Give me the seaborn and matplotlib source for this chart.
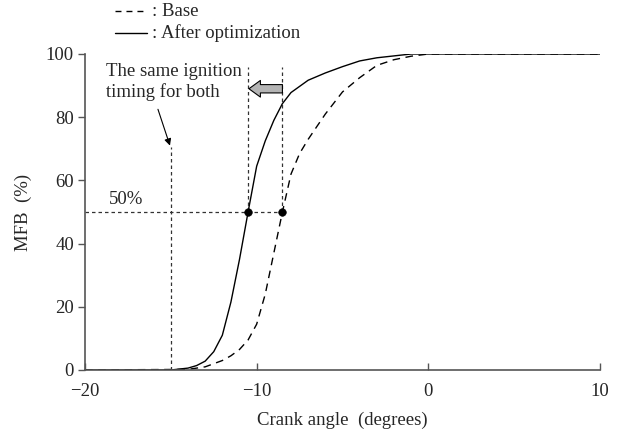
import matplotlib
matplotlib.use("Agg")
import matplotlib.pyplot as plt
from matplotlib.lines import Line2D
import pandas as pd
import seaborn as sns

# Mass fraction burned vs crank angle
base_angle = [-20, -14, -13, -12.5, -12, -11.5, -11, -10.5, -10, -9.5, -9, -8.5,
              -8, -7.5, -7, -6, -5, -4, -3, -2, -1, 0, 10]
base_mfb = [0, 0.2, 1, 2, 3, 4.5, 6.5, 9.5, 14.5, 24, 37, 50,
            62, 68.5, 73, 81, 88, 92.5, 96.4, 98.2, 99.3, 100, 100]

opt_angle = [-20, -15, -14, -13.5, -13, -12.5, -12, -11.5, -11, -10.5, -10, -9.5,
             -9, -8.5, -8, -7, -6, -5, -4, -3, -2, -1, 0, 10]
opt_mfb = [0, 0, 0.6, 1.4, 2.8, 5.8, 11, 21.5, 35, 50, 64.5, 72.5,
           79, 84.3, 87.8, 91.7, 94, 96, 97.8, 98.8, 99.4, 100, 100, 100]

ignition_angle = -15
ca50_opt = -10.5
ca50_base = -8.5
ca50_level = 50

x_ticks = [-20, -10, 0, 10]
y_ticks = [0, 20, 40, 60, 80, 100]

FS = 13.5

sns.set_style("ticks")
plt.rcParams["font.family"] = ["Liberation Serif", "DejaVu Serif"]
plt.rcParams["font.size"] = FS
plt.rcParams["axes.unicode_minus"] = True

fig = plt.figure(figsize=(6.19, 4.37), dpi=100)
ax = fig.add_axes([85 / 619, 1 - 370 / 437, 515 / 619, 316 / 437])

df_base = pd.DataFrame({"angle": base_angle, "mfb": base_mfb})
df_opt = pd.DataFrame({"angle": opt_angle, "mfb": opt_mfb})

sns.lineplot(data=df_base, x="angle", y="mfb", ax=ax, color="black", lw=1.0,
             sort=False, estimator=None)
ax.lines[-1].set_dashes((5.5, 4))
sns.lineplot(data=df_opt, x="angle", y="mfb", ax=ax, color="black", lw=1.0,
             sort=False, estimator=None)

guide = dict(color="#333333", lw=0.9, dashes=(2.8, 2.4))
# ignition timing
ax.plot([ignition_angle, ignition_angle], [0, 70.5], **guide)
# 50 % line and CA50 verticals
ax.plot([-20, ca50_base], [ca50_level, ca50_level], **guide)
ax.plot([ca50_opt, ca50_opt], [ca50_level, 96], **guide)
ax.plot([ca50_base, ca50_base], [ca50_level, 96], **guide)

sns.scatterplot(x=[ca50_opt, ca50_base], y=[ca50_level, ca50_level], ax=ax,
                color="black", s=30, zorder=5, edgecolor="black")

# shift arrow
ax.annotate("", xy=(ca50_opt + 0.05, 89), xytext=(ca50_base, 89),
            arrowprops=dict(arrowstyle="simple,head_length=0.55,head_width=0.8,tail_width=0.4",
                            fc="#b4b4b4", ec="black", lw=0.8, mutation_scale=15,
                            shrinkA=0, shrinkB=0))

ax.text(-18.8, 97, "The same ignition\ntiming for both", ha="left", va="top",
        fontsize=FS, linespacing=1.2)
ax.annotate("", xy=(ignition_angle - 0.05, 71), xytext=(-15.75, 82.5),
            arrowprops=dict(arrowstyle="-|>", color="black", lw=0.8,
                            mutation_scale=10, shrinkA=0, shrinkB=0))
ax.text(-17.6, 54, "50%", ha="center", va="center", fontsize=FS)

ax.set_xlim(-20, 10)
ax.set_ylim(0, 100)
ax.set_xticks(x_ticks)
ax.set_yticks(y_ticks)
ax.set_xlabel("Crank angle  (degrees)", fontsize=FS, labelpad=9)
ax.set_ylabel("MFB  (%)", fontsize=FS, labelpad=10)
ax.tick_params(axis="x", direction="in", length=5, width=1, color="#555555", pad=9, labelsize=FS)
ax.tick_params(axis="y", direction="out", length=5, width=1, color="#555555", pad=3, labelsize=FS)
sns.despine(ax=ax)
for s in ("left", "bottom"):
    ax.spines[s].set_color("#555555")
    ax.spines[s].set_linewidth(1.2)

# legend drawn in figure coordinates
fig.add_artist(Line2D([115 / 619, 147 / 619], [1 - 11 / 437] * 2, color="black", lw=1.0,
                      dashes=(4.3, 3.6)))
fig.add_artist(Line2D([115 / 619, 147 / 619], [1 - 33 / 437] * 2, color="black", lw=1.0))
fig.text(152 / 619, 1 - 11 / 437, ": Base", ha="left", va="center", fontsize=FS)
fig.text(152 / 619, 1 - 33 / 437, ": After optimization", ha="left", va="center", fontsize=FS)

fig.savefig("out.png", dpi=100)
